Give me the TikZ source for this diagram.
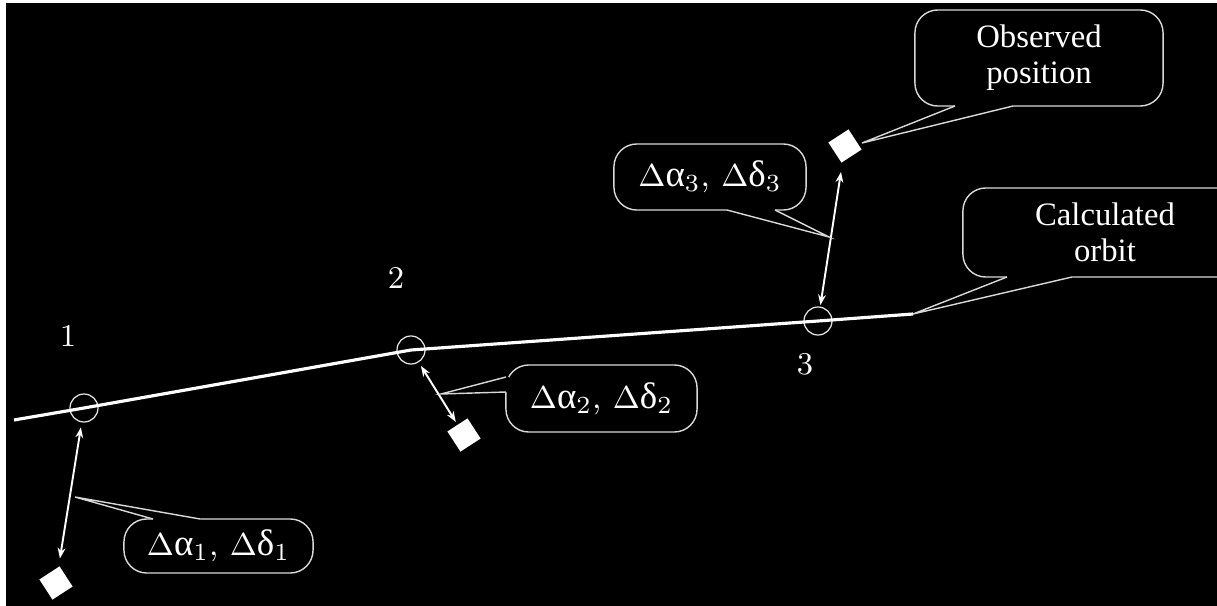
\documentclass[tikz,border=0pt]{standalone}
\usepackage{fontspec}
\newfontfamily\tmsfont{Liberation Serif}
\usetikzlibrary{arrows.meta}
% upright Greek letters for the residual labels
\newcommand\ualpha{\mbox{\tmsfont\fontsize{10.5}{11}\selectfont α}}
\newcommand\udelta{\mbox{\tmsfont\fontsize{10.5}{11}\selectfont δ}}
\begin{document}
\begin{tikzpicture}[x=0.01cm,y=-0.01cm,
  callout/.style={draw=white!85!black, line width=0.4pt, fill=black, rounded corners=6.5pt,
                  text=white, align=center, inner sep=0pt},
  ptr/.style={draw=white!85!black, line width=0.4pt},
  hole/.style={circle, draw=white!90!black, line width=0.35pt, minimum size=0.28cm, inner sep=0pt},
  obs/.style={rectangle, fill=white, minimum size=0.24cm, inner sep=0pt, rotate=33},
  dev/.style={{Stealth[length=3pt,width=2.2pt]}-{Stealth[length=3pt,width=2.2pt]},
              white, line width=0.55pt},
  num/.style={text=white, font=\fontsize{9}{10}\selectfont},
  dl/.style={font=\fontsize{9.3}{11}\selectfont},
  nm/.style={font=\tmsfont\fontsize{9.3}{10.3}\selectfont}
]
% frame
\clip (0,0) rectangle (1217,606);
\fill[white] (0,0) rectangle (1217,606);
\fill[black] (6,3) rectangle (1217,606);

% positions along the orbit
\node[hole] (c1) at (84,408) {};
\node[hole] (c2) at (411,350) {};
\node[hole] (c3) at (818,321) {};
\coordinate (orbS) at (14,420);
\coordinate (orbE) at (913,314);

% calculated orbit
\draw[white, line width=0.9pt] (orbS) -- (c1.center) -- (c2.center) -- (c3.center) -- (orbE);

% observed positions
\node[obs] (s1) at (56,583) {};
\node[obs] (s2) at (464,435) {};
\node[obs] (s3) at (845,146) {};

% residuals
\draw[dev, shorten <=1.4pt, shorten >=2.2pt] (c1) -- (s1);
\draw[dev, shorten <=1.2pt, shorten >=0.8pt] (c2) -- (s2);
\draw[dev, shorten <=0.4pt, shorten >=2.6pt] (c3) -- (s3);

% numbers
\node[num] (n1) at (68,336) {1};
\node[num] (n2) at (396,278) {2};
\node[num] (n3) at (805,364) {3};

% callout tips
\coordinate (t1) at (75,497);
\coordinate (t2) at (441,394);
\coordinate (t3) at (829,237);
\coordinate (tO) at (862,143);

% callout boxes
\node[callout, dl, minimum width=1.89cm, minimum height=0.54cm] (b1) at (218.5,546)
  {$\Delta\ualpha_1$, $\Delta\udelta_1$};
\node[callout, dl, minimum width=1.91cm, minimum height=0.67cm] (b2) at (601.5,398.5)
  {$\Delta\ualpha_2$, $\Delta\udelta_2$};
\node[callout, dl, minimum width=1.92cm, minimum height=0.66cm] (b3) at (710,177)
  {$\Delta\ualpha_3$, $\Delta\udelta_3$};
\node[callout, nm, minimum width=2.48cm, minimum height=0.96cm] (bO) at (1039,58)
  {Observed\\position};
\node[callout, nm, minimum width=2.84cm, minimum height=0.89cm] (bC) at (1105,232.5)
  {Calculated\\orbit};

% callout pointers
\fill[black] (t1) -- (153,519) -- (153,522) -- (200,522) -- (200,519) -- cycle;
\draw[ptr] (153,519) -- (t1) -- (200,519);
\fill[black] (t2) -- (506,377) -- (509,377) -- (509,392) -- (506,392) -- cycle;
\draw[ptr] (506,377) -- (t2) -- (506,392);
\fill[black] (t3) -- (727,210) -- (727,207) -- (775,207) -- (775,210) -- cycle;
\draw[ptr] (727,210) -- (t3) -- (775,210);
\fill[black] (tO) -- (955,106) -- (955,103) -- (1013,103) -- (1013,106) -- cycle;
\draw[ptr] (955,106) -- (tO) -- (1013,106);
\fill[black] (orbE) -- (1007,277) -- (1007,274) -- (1072,274) -- (1072,277) -- cycle;
\draw[ptr] (1007,277) -- (orbE) -- (1072,277);
\end{tikzpicture}
\end{document}
